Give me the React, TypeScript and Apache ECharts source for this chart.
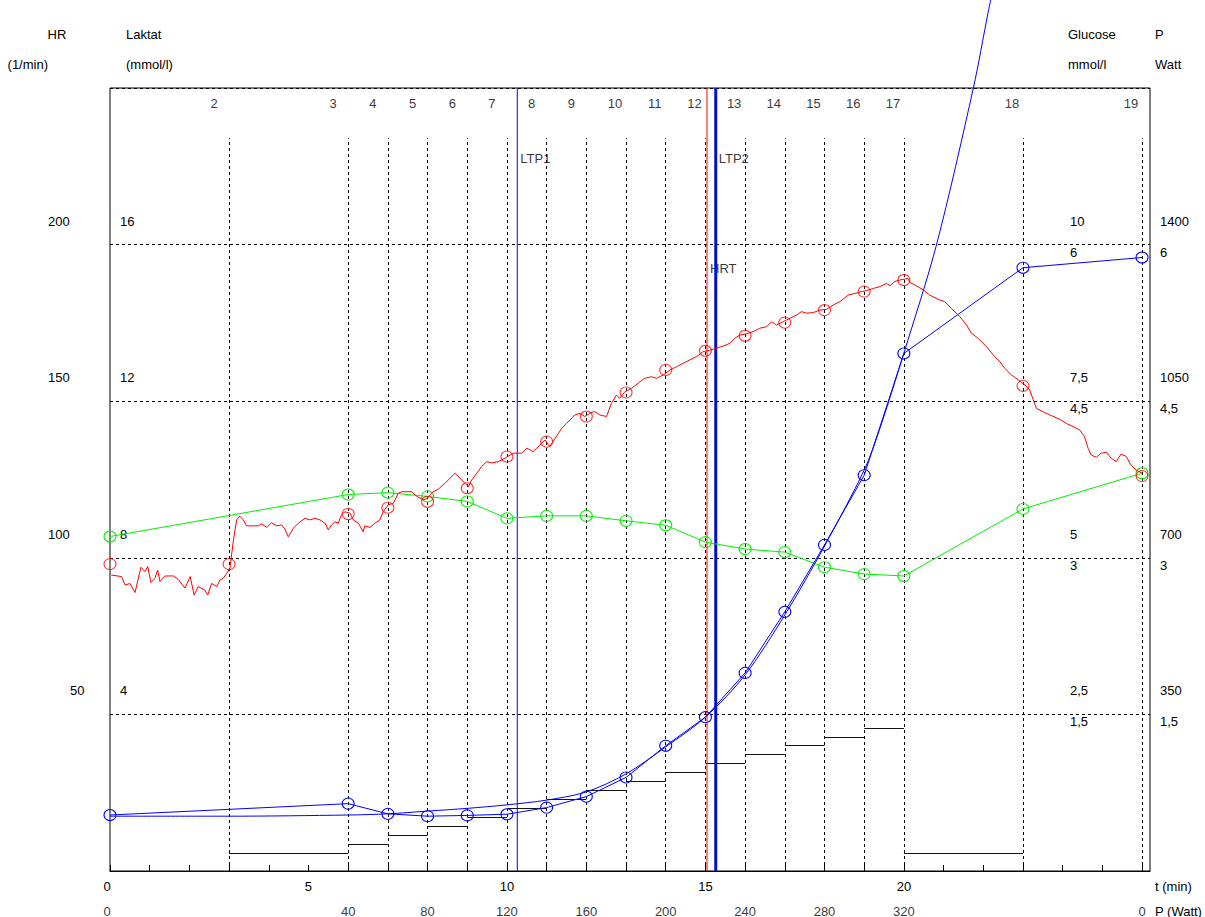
import React, { useEffect, useRef } from 'react';
import * as echarts from 'echarts';

const FONT = '"Liberation Sans", Arial, sans-serif';
const RED = '#ff0000';
const GREEN = '#00f000';
const BLUE = '#0000ff';
const DARK_BLUE = '#0010c8';

// Stage boundaries (min) and the load of the stage ending at each boundary (W)
const stageEnds = [0, 3, 6, 7, 8, 9, 10, 11, 12, 13, 14, 15, 16, 17, 18, 19, 20, 23, 26];
const stagePower = [0, 0, 40, 60, 80, 100, 120, 140, 160, 180, 200, 220, 240, 260, 280, 300, 320, 40, 0];
const powerLabelTimes = [0, 6, 8, 10, 12, 14, 16, 18, 20, 26];

// Blood samples
const sampleTimes = [0, 6, 7, 8, 9, 10, 11, 12, 13, 14, 15, 16, 17, 18, 19, 20, 23, 26];
const lactate = [1.43, 1.72, 1.46, 1.4, 1.42, 1.45, 1.62, 1.9, 2.39, 3.2, 3.93, 5.06, 6.62, 8.33, 10.11, 13.22, 15.41, 15.67];
const glucose = [5.34, 6.01, 6.04, 5.98, 5.9, 5.63, 5.67, 5.67, 5.59, 5.52, 5.25, 5.14, 5.09, 4.85, 4.74, 4.71, 5.78, 6.35];

// Lactate fit curve (min, mmol/l)
const lactateFit: [number, number][] = [
  [0, 1.4], [3, 1.4], [6, 1.43], [7, 1.46], [8, 1.53], [9, 1.6], [10, 1.69], [11, 1.81], [12, 2.02],
  [13, 2.48], [14, 3.17], [15, 3.93], [16, 5.01], [17, 6.54], [18, 8.3], [19, 10.24], [19.38, 11.26],
  [20, 13.23], [20.82, 15.99], [21.75, 20.0], [22.12, 21.92], [22.2, 22.3],
];

// Heart rate at the end of each stage
const hrStageTimes = [0, 3, 6, 7, 8, 9, 10, 11, 12, 13, 14, 15, 16, 17, 18, 19, 20, 23, 26];
const hrStage = [98.0, 98.0, 114.0, 116.0, 117.9, 122.2, 132.3, 137.1, 145.1, 152.8, 160.0, 166.1, 170.9, 175.1, 179.1, 185.0, 188.7, 154.9, 126.1];

// Continuous heart rate recording (min, 1/min)
const hrTrace: [number, number][] = [
  [0.03, 94.5], [0.29, 94.0], [0.38, 91.3], [0.5, 91.8], [0.63, 88.9], [0.78, 97.0], [0.88, 95.6], [0.95, 97.2],
  [1.03, 92.1], [1.13, 93.4], [1.2, 96.1], [1.26, 92.4], [1.39, 94.2], [1.6, 94.2], [1.72, 93.1], [1.89, 90.3],
  [2.02, 94.0], [2.12, 88.1], [2.22, 90.8], [2.39, 89.7], [2.46, 88.1], [2.56, 91.8], [2.69, 90.8], [2.77, 92.9],
  [2.85, 93.4], [2.94, 95.0], [3.02, 96.6], [3.11, 105.7], [3.19, 112.1], [3.27, 113.3], [3.36, 112.1], [3.44, 110.2],
  [3.74, 110.2], [3.82, 110.8], [3.95, 109.7], [4.07, 111.2], [4.2, 110.2], [4.32, 110.5], [4.41, 109.1], [4.49, 106.7],
  [4.62, 109.4], [4.74, 111.0], [4.91, 112.6], [5.04, 112.1], [5.16, 112.6], [5.29, 112.1], [5.42, 111.0], [5.5, 108.9],
  [5.58, 110.5], [5.67, 111.5], [5.75, 111.0], [5.83, 113.7], [5.92, 114.7], [6.05, 114.2], [6.13, 112.1], [6.26, 111.0],
  [6.38, 108.3], [6.42, 110.2], [6.55, 109.7], [6.67, 111.0], [6.8, 112.1], [6.88, 114.7], [7.01, 116.9], [7.14, 117.4],
  [7.26, 120.6], [7.35, 121.1], [7.6, 121.1], [7.72, 119.7], [7.89, 118.5], [7.98, 118.9], [8.06, 120.1], [8.14, 121.1],
  [8.27, 121.9], [8.44, 123.8], [8.69, 127.0], [8.82, 125.4], [8.94, 123.8], [9.03, 122.7], [9.11, 124.8], [9.24, 127.0],
  [9.36, 129.1], [9.49, 130.7], [9.61, 130.3], [9.78, 130.7], [9.95, 131.8], [10.16, 133.4], [10.37, 133.4], [10.5, 135.0],
  [10.66, 133.9], [10.83, 136.0], [10.96, 137.6], [11.08, 135.5], [11.21, 138.1], [11.38, 141.3], [11.5, 142.9], [11.59, 144.0],
  [11.71, 145.6], [11.84, 146.1], [11.96, 145.1], [12.09, 146.2], [12.21, 146.7], [12.34, 145.6], [12.51, 145.1], [12.63, 149.3],
  [12.76, 152.0], [12.84, 150.9], [12.97, 153.0], [13.14, 154.1], [13.35, 156.2], [13.47, 157.3], [13.64, 157.8], [13.77, 157.3],
  [13.94, 158.4], [14.11, 160.0], [14.27, 161.0], [14.44, 162.1], [14.61, 163.2], [14.77, 164.2], [14.94, 165.8], [15.11, 166.3],
  [15.28, 166.9], [15.45, 167.6], [15.62, 168.5], [15.74, 170.1], [15.87, 171.1], [16.03, 171.5], [16.2, 172.2], [16.37, 173.3],
  [16.54, 173.8], [16.67, 175.4], [16.79, 174.3], [16.96, 175.4], [17.13, 176.5], [17.3, 177.5], [17.42, 178.6], [17.55, 178.1],
  [17.72, 178.3], [17.88, 179.1], [18.05, 179.3], [18.22, 180.7], [18.39, 181.8], [18.6, 183.9], [18.77, 184.4], [18.93, 185.0],
  [19.06, 185.3], [19.23, 186.0], [19.4, 186.6], [19.56, 187.6], [19.65, 186.9], [19.77, 188.2], [19.9, 188.7], [20.1, 189.2],
  [20.15, 187.9], [20.28, 187.1], [20.49, 185.5], [20.65, 183.9], [20.86, 182.5], [21.03, 181.8], [21.19, 179.7], [21.41, 177.0],
  [21.58, 174.3], [21.7, 171.7], [21.87, 170.1], [22.08, 167.4], [22.29, 164.2], [22.42, 162.6], [22.54, 160.5], [22.71, 158.4],
  [22.88, 156.8], [23.05, 155.2], [23.17, 153.6], [23.26, 150.4], [23.34, 147.7], [23.51, 146.6], [23.68, 145.6], [23.93, 144.2],
  [24.09, 142.9], [24.26, 141.9], [24.43, 140.8], [24.55, 138.7], [24.64, 135.0], [24.72, 132.8], [24.85, 132.1], [24.97, 133.4],
  [25.1, 133.7], [25.22, 131.8], [25.35, 130.7], [25.47, 133.1], [25.6, 132.4], [25.72, 129.6], [25.85, 128.0], [26.01, 127.0],
];

// Threshold markers
const thresholdNames = ['LTP1', 'HRT', 'LTP2'];
const thresholdTimes = [10.26, 15.04, 15.26];
const thresholdLabelHr = [227.6, 192.5, 227.6];

const T_MAX = 26.2;
const STAGE_LINE_TOP = 234; // in 1/min, dotted stage lines stop below the stage numbers
const STAGE_LABEL_HR = 245.2;

const comma = (v: number) => String(v).replace('.', ',');
const inner = (min: number, max: number) => (v: number) => (v <= min || v >= max ? '' : comma(v));

export default function App() {
  const ref = useRef<HTMLDivElement>(null);

  useEffect(() => {
    const chart = echarts.init(ref.current!, null, { renderer: 'svg' });
    const txt = { color: '#000', fontFamily: FONT, fontSize: 13 };
    const hiddenLine = { show: false };

    const yAxisBase = (min: number, max: number, interval: number, position: 'left' | 'right') => ({
      type: 'value' as const,
      min,
      max,
      interval,
      position,
      axisLine: hiddenLine,
      axisTick: hiddenLine,
      splitLine: { show: false },
    });

    const labelText = (x: number, y: number, text: string, align = 'left') => ({
      type: 'text',
      x,
      y,
      style: {
        text,
        fill: '#000',
        font: `13px ${FONT}`,
        align,
        textAlign: align,
        verticalAlign: 'middle',
        textVerticalAlign: 'middle',
      },
      silent: true,
    });

    const stageLabelData = stageEnds
      .map((t, i) => ({ t, n: String(i + 1) }))
      .filter((s) => s.t > 0)
      .map((s) => ({
        value: [s.t, STAGE_LABEL_HR],
        label: { formatter: s.n, offset: [s.n.length === 1 ? -15 : -11, 0] },
      }));

    const powerLabelData = powerLabelTimes.map((t) => ({
      value: [t, 0],
      label: { formatter: String(stagePower[stageEnds.indexOf(t)]), offset: [t === 0 ? -3 : 0, 40] },
    }));

    const powerSteps = stagePower
      .map((p, i) => (i === 0 ? null : { coords: [[stageEnds[i - 1], p], [stageEnds[i], p]] }))
      .filter(Boolean);

    const thresholdStyles = [
      { color: BLUE, width: 1 },
      { color: RED, width: 1 },
      { color: DARK_BLUE, width: 3 },
    ];

    // Full-height threshold markers as plain two-point line series
    const thresholdSeries = thresholdTimes.map((t, i) => ({
      name: thresholdNames[i],
      type: 'line',
      xAxisIndex: 0,
      yAxisIndex: 0,
      silent: true,
      z: 3,
      symbol: 'none',
      color: thresholdStyles[i].color,
      itemStyle: { color: thresholdStyles[i].color },
      lineStyle: { ...thresholdStyles[i], opacity: 1 },
      data: [[t, 0], [t, 250]],
    }));

    const option: any = {
      animation: false,
      backgroundColor: '#fff',
      grid: {
        left: 110,
        top: 88,
        width: 1040,
        height: 783,
        show: true,
        borderColor: '#000',
        borderWidth: 1,
        backgroundColor: 'transparent',
      },
      xAxis: [
        {
          type: 'value',
          min: 0,
          max: T_MAX,
          interval: 1,
          position: 'bottom',
          axisLine: { show: true, lineStyle: { color: '#000', width: 1 } },
          axisTick: { show: true, inside: true, length: 6, lineStyle: { color: '#000', width: 1 } },
          axisLabel: {
            ...txt,
            margin: 9,
            showMaxLabel: false,
            formatter: (v: number) => (v % 5 === 0 && v <= 20 ? (v === 0 ? '{z|0}' : String(v)) : ''),
            rich: { z: { ...txt, padding: [0, 6, 0, 0] } },
          },
          splitLine: { show: false },
        },
      ],
      yAxis: [
        // 0: heart rate
        {
          ...yAxisBase(0, 250, 50, 'left'),
          splitLine: { show: true, lineStyle: { color: '#000', width: 1, type: [3, 3] } },
          axisLabel: {
            ...txt,
            margin: 62,
            align: 'left',
            verticalAlign: 'bottom',
            padding: [0, 0, 17, 0],
            formatter: (v: number) => (v <= 0 || v >= 250 ? '' : v < 100 ? `{s|${v}}` : `{n|${v}}`),
            rich: {
              n: { ...txt },
              s: { ...txt, padding: [0, 0, 0, 22] },
            },
          },
        },
        // 1: lactate
        {
          ...yAxisBase(0, 20, 4, 'left'),
          axisLabel: {
            ...txt,
            inside: true,
            margin: 10,
            align: 'left',
            verticalAlign: 'bottom',
            padding: [0, 0, 17, 0],
            formatter: inner(0, 20),
          },
        },
        // 2: glucose
        {
          ...yAxisBase(0, 12.5, 2.5, 'right'),
          axisLabel: {
            ...txt,
            inside: true,
            margin: 80,
            align: 'left',
            verticalAlign: 'bottom',
            padding: [0, 0, 17, 0],
            formatter: inner(0, 12.5),
          },
        },
        // 3: inner secondary scale
        {
          ...yAxisBase(0, 7.5, 1.5, 'right'),
          axisLabel: {
            ...txt,
            inside: true,
            margin: 80,
            align: 'left',
            verticalAlign: 'top',
            padding: [1, 0, 0, 0],
            formatter: inner(0, 7.5),
          },
        },
        // 4: power
        {
          ...yAxisBase(0, 1750, 350, 'right'),
          axisLabel: {
            ...txt,
            margin: 10,
            align: 'left',
            verticalAlign: 'bottom',
            padding: [0, 0, 17, 0],
            formatter: inner(0, 1750),
          },
        },
        // 5: outer secondary scale
        {
          ...yAxisBase(0, 7.5, 1.5, 'right'),
          axisLabel: {
            ...txt,
            margin: 10,
            align: 'left',
            verticalAlign: 'top',
            padding: [1, 0, 0, 0],
            formatter: inner(0, 7.5),
          },
        },
      ],
      graphic: [
        labelText(57, 34, 'HR', 'center'),
        labelText(48, 64, '(1/min)', 'right'),
        labelText(126, 34, 'Laktat'),
        labelText(126, 64, '(mmol/l)'),
        labelText(1068, 34, 'Glucose'),
        labelText(1068, 64, 'mmol/l'),
        labelText(1155, 34, 'P'),
        labelText(1155, 64, 'Watt'),
        labelText(1155, 886, 't (min)'),
        labelText(1155, 911, 'P (Watt)'),
      ],
      series: [
        {
          name: 'stages',
          type: 'lines',
          coordinateSystem: 'cartesian2d',
          xAxisIndex: 0,
          yAxisIndex: 0,
          silent: true,
          z: 1,
          color: '#000',
          lineStyle: { color: '#000', width: 1, type: [3, 3], opacity: 1 },
          data: stageEnds.filter((t) => t > 0).map((t) => ({ coords: [[t, 0], [t, STAGE_LINE_TOP]] })),
        },
        {
          name: 'P',
          type: 'lines',
          coordinateSystem: 'cartesian2d',
          xAxisIndex: 0,
          yAxisIndex: 4,
          silent: true,
          z: 2,
          color: '#111',
          lineStyle: { color: '#111', width: 1.2, opacity: 1 },
          data: powerSteps,
        },
        ...thresholdSeries,
        {
          name: 'Glucose',
          type: 'line',
          xAxisIndex: 0,
          yAxisIndex: 2,
          z: 4,
          symbol: 'circle',
          symbolSize: [12, 11],
          itemStyle: { color: 'rgba(0,0,0,0)', borderColor: GREEN, borderWidth: 1 },
          lineStyle: { color: GREEN, width: 1 },
          data: sampleTimes.map((t, i) => [t, glucose[i]]),
        },
        {
          name: 'Laktat fit',
          type: 'line',
          xAxisIndex: 0,
          yAxisIndex: 1,
          z: 5,
          clip: false,
          smooth: 0.3,
          symbol: 'none',
          lineStyle: { color: BLUE, width: 1 },
          data: lactateFit,
        },
        {
          name: 'Laktat',
          type: 'line',
          xAxisIndex: 0,
          yAxisIndex: 1,
          z: 5,
          symbol: 'circle',
          symbolSize: [12, 11],
          itemStyle: { color: 'rgba(0,0,0,0)', borderColor: BLUE, borderWidth: 1 },
          lineStyle: { color: BLUE, width: 1 },
          data: sampleTimes.map((t, i) => [t, lactate[i]]),
        },
        {
          name: 'HR',
          type: 'line',
          xAxisIndex: 0,
          yAxisIndex: 0,
          z: 6,
          symbol: 'none',
          lineStyle: { color: RED, width: 1 },
          data: hrTrace,
        },
        {
          name: 'HR stage',
          type: 'scatter',
          xAxisIndex: 0,
          yAxisIndex: 0,
          z: 6,
          symbol: 'circle',
          symbolSize: [12, 11],
          itemStyle: { color: 'rgba(0,0,0,0)', borderColor: RED, borderWidth: 1 },
          data: hrStageTimes.map((t, i) => [t, hrStage[i]]),
        },
        {
          name: 'stage numbers',
          type: 'scatter',
          xAxisIndex: 0,
          yAxisIndex: 0,
          silent: true,
          clip: false,
          symbolSize: 1,
          itemStyle: { color: 'rgba(0,0,0,0)' },
          label: { show: true, position: 'inside', ...txt },
          data: stageLabelData,
        },
        {
          name: 'power labels',
          type: 'scatter',
          xAxisIndex: 0,
          yAxisIndex: 0,
          silent: true,
          clip: false,
          symbolSize: 1,
          itemStyle: { color: 'rgba(0,0,0,0)' },
          label: { show: true, position: 'inside', ...txt },
          data: powerLabelData,
        },
        {
          name: 'threshold labels',
          type: 'scatter',
          xAxisIndex: 0,
          yAxisIndex: 0,
          silent: true,
          clip: false,
          symbolSize: 1,
          itemStyle: { color: 'rgba(0,0,0,0)' },
          label: { show: true, position: 'inside', align: 'left', offset: [3, 0], ...txt },
          data: thresholdTimes.map((t, i) => ({
            value: [t, thresholdLabelHr[i]],
            label: { formatter: thresholdNames[i] },
          })),
        },
      ],
    };

    chart.setOption(option);
    return () => chart.dispose();
  }, []);

  return (
    <div
      ref={ref}
      style={{ position: 'absolute', left: 0, top: 0, width: 1205, height: 917, background: '#fff' }}
    />
  );
}
